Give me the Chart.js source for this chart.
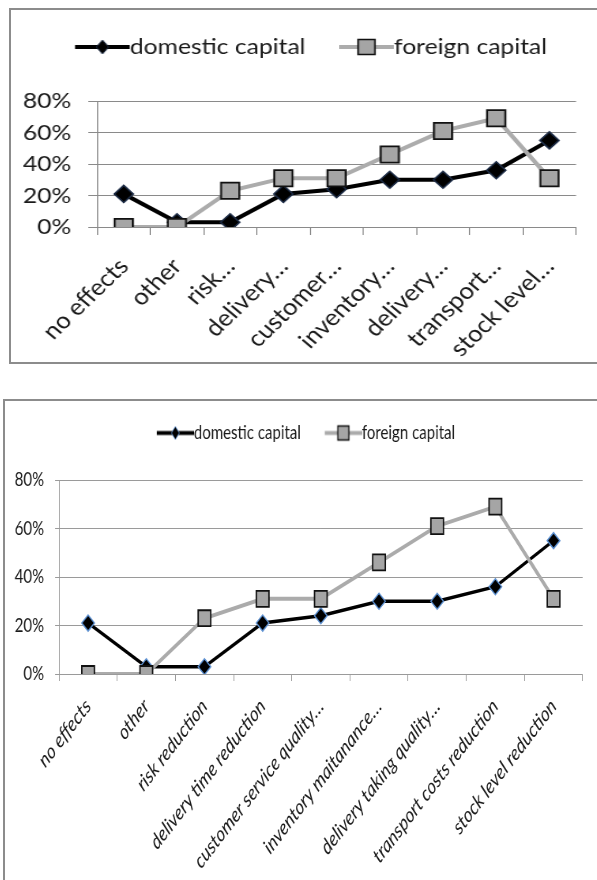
<!DOCTYPE html>
<html>
<head>
<meta charset="utf-8">
<script src="https://cdn.jsdelivr.net/npm/chart.js@4.4.1/dist/chart.umd.min.js"></script>
<style>
  body { margin: 0; background: #fff; width: 597px; height: 880px; position: relative; overflow: hidden; }
  .box { position: absolute; border: 2px solid #8c8c8c; box-sizing: border-box; }
  #box1 { left: 9px; top: 8px; width: 590px; height: 356px; }
  #box2 { left: 3px; top: 399px; width: 610px; height: 500px; }
  .wrap { position: absolute; transform-origin: 0 0; }
  /* the upper chart is stretched, the lower one squeezed */
  #wrap1 { left: 12px; top: 11px; transform: scaleX(1.12); }
  #wrap2 { left: 6px; top: 402px; transform: scaleX(0.79); }
</style>
</head>
<body>
<div class="box" id="box1"></div>
<div class="box" id="box2"></div>
<div class="wrap" id="wrap1"><canvas id="top" width="524" height="350"></canvas></div>
<div class="wrap" id="wrap2"><canvas id="bottom" width="743" height="478"></canvas></div>
<script>
const categories = [
  'no effects', 'other', 'risk reduction', 'delivery time reduction',
  'customer service quality…', 'inventory maitanance…', 'delivery taking quality…',
  'transport costs reduction', 'stock level reduction'
];
const shortTicks = [
  'no effects', 'other', 'risk…', 'delivery…', 'customer…',
  'inventory…', 'delivery…', 'transport…', 'stock level…'
];
const domestic = [21, 3, 3, 21, 24, 30, 30, 36, 55];
const foreign = [0, 0, 23, 31, 31, 46, 61, 69, 31];
const yTicks = [0, 20, 40, 60, 80];

// line + marker swatch used as the legend point style
function swatch(w, h, margin, line, mark) {
  const c = document.createElement('canvas');
  c.width = w; c.height = h;
  const g = c.getContext('2d');
  const y = h / 2, cx = (margin + w) / 2;
  g.strokeStyle = line.color;
  g.lineWidth = line.width;
  g.beginPath(); g.moveTo(margin, y); g.lineTo(w, y); g.stroke();
  g.fillStyle = mark.fill;
  g.strokeStyle = mark.stroke;
  g.lineWidth = mark.bw;
  g.beginPath();
  if (mark.diamond) {
    g.moveTo(cx, y - mark.h); g.lineTo(cx + mark.w, y);
    g.lineTo(cx, y + mark.h); g.lineTo(cx - mark.w, y);
    g.closePath();
  } else {
    g.rect(cx - mark.w, y - mark.h, mark.w * 2, mark.h * 2);
  }
  g.fill(); g.stroke();
  return c;
}

function lineChart(id, o) {
  const canvas = document.getElementById(id);
  const font = { family: 'Lato', size: o.fs };
  const sw = Math.round(o.boxW + o.fs);
  const samples = [
    swatch(sw, o.fs + 4, o.margin, { color: o.foreignLine, width: 4 },
      { fill: '#a5a5a5', stroke: '#111', bw: 1.5, w: o.sq, h: o.sq }),
    swatch(sw, o.fs + 4, o.margin, { color: '#000', width: 4 },
      { fill: '#000', stroke: o.diamondEdge, bw: 1, w: o.dm, h: o.dm + 1.5, diamond: true })
  ];
  return new Chart(canvas, {
    type: 'line',
    data: {
      labels: categories,
      datasets: [{
        label: 'foreign capital',
        data: foreign,
        borderColor: o.foreignLine,
        borderWidth: 4,
        tension: 0,
        pointStyle: 'rect',
        pointRadius: o.rectR,
        pointBackgroundColor: '#a5a5a5',
        pointBorderColor: '#111',
        pointBorderWidth: 1.8
      }, {
        label: 'domestic capital',
        data: domestic,
        borderColor: '#000',
        borderWidth: o.blackW,
        tension: 0,
        pointStyle: 'rectRot',
        pointRadius: o.rotR,
        pointBackgroundColor: '#000',
        pointBorderColor: o.diamondEdge,
        pointBorderWidth: 1.5
      }]
    },
    options: {
      responsive: false,
      animation: false,
      layout: { padding: { top: o.padT, left: o.padL, right: 0, bottom: 0 } },
      plugins: {
        tooltip: { enabled: false },
        // empty title under the legend, only keeps a gap above the plot
        title: {
          display: true, text: '', weight: 500,
          font: { size: 10, lineHeight: 0 },
          padding: { top: o.gap, bottom: 0 }
        },
        legend: {
          labels: {
            usePointStyle: true,
            pointStyleWidth: o.boxW,
            padding: o.legPad,
            color: '#1a1a1a',
            font: font,
            sort: (a, b) => b.datasetIndex - a.datasetIndex,
            generateLabels(chart) {
              const items = Chart.defaults.plugins.legend.labels.generateLabels(chart);
              items.forEach(it => { it.pointStyle = samples[it.datasetIndex]; });
              return items;
            }
          }
        }
      },
      scales: {
        x: {
          offset: true,
          afterFit(s) { s.height = o.xH; s.paddingRight = canvas.width - o.plotRight; },
          grid: { offset: true, drawOnChartArea: false, drawTicks: true, tickLength: o.xTick, color: o.gridColor },
          border: { display: true, color: o.gridColor },
          ticks: {
            autoSkip: false, minRotation: o.rot, maxRotation: o.rot, padding: o.xPad,
            color: '#1a1a1a',
            font: { family: 'Lato', size: o.xfs, style: o.italic ? 'italic' : 'normal' },
            callback: (v, i) => o.ticks[i]
          }
        },
        y: {
          min: yTicks[0],
          max: yTicks[yTicks.length - 1],
          afterFit(s) { s.width = o.plotLeft - o.padL; },
          grid: { color: o.gridColor, tickLength: o.yTick },
          border: { display: true, color: o.gridColor },
          ticks: {
            stepSize: yTicks[1] - yTicks[0],
            padding: o.yPad,
            color: '#1a1a1a',
            font: font,
            callback: v => v + '%'
          }
        }
      }
    }
  });
}

function draw() {
  lineChart('top', {
    ticks: shortTicks, fs: 22, xfs: 23, italic: false, rot: 47,
    padT: 5, padL: 0, gap: 33, legPad: 20, boxW: 48, margin: 21,
    plotLeft: 76, plotRight: 503.6, xH: 134,
    xTick: 8, yTick: 8, xPad: 18, yPad: 15,
    rectR: 11.5, rotR: 8.5, blackW: 4, sq: 7.5, dm: 5.5,
    foreignLine: '#acacac', diamondEdge: '#1c2b45', gridColor: '#8a8a8a'
  });
  lineChart('bottom', {
    ticks: categories, fs: 19, xfs: 21, italic: true, rot: 46,
    padT: 3.5, padL: 4, gap: 27.5, legPad: 18, boxW: 49.7, margin: 21.9,
    plotLeft: 67.1, plotRight: 739.2, xH: 206,
    xTick: 7, yTick: 5, xPad: 13, yPad: 13.9,
    rectR: 11.3, rotR: 8, blackW: 3.5, sq: 7, dm: 5,
    foreignLine: '#ababab', diamondEdge: '#5b8fd0', gridColor: '#9a9a9a'
  });
}

Promise.all([
  document.fonts.load('22px Lato'),
  document.fonts.load('italic 21px Lato')
]).catch(() => {}).then(draw);
</script>
</body>
</html>
